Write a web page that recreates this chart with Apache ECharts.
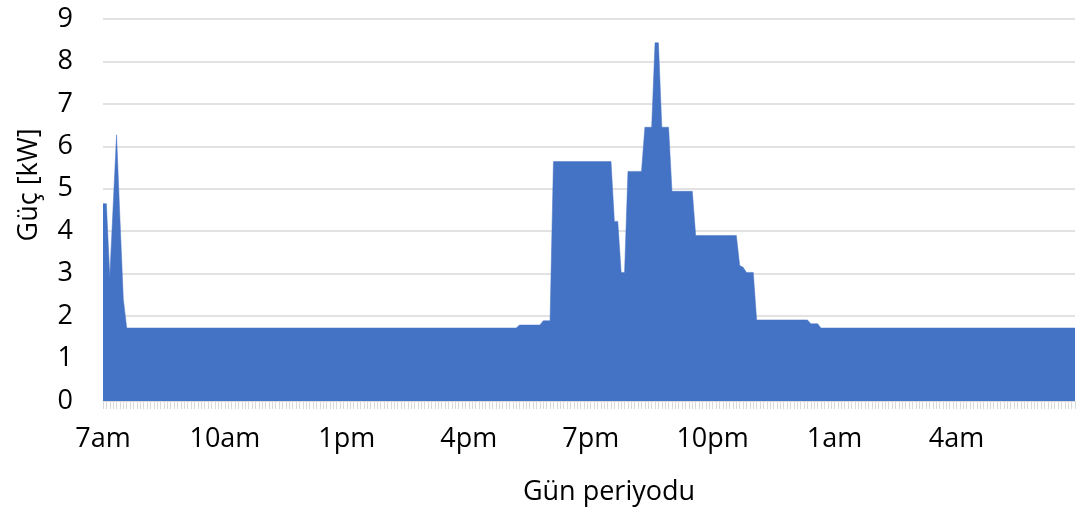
<!DOCTYPE html>
<html>
<head>
<meta charset="utf-8">
<script src="https://cdn.jsdelivr.net/npm/echarts@6/dist/echarts.min.js"></script>
<style>
html,body{margin:0;padding:0;background:#fff;}
#chart{width:1076px;height:514px;}
</style>
</head>
<body>
<div id="chart"></div>
<script>
// 5-minute intervals starting at 7:00am, 288 points (24 hours)
const hourLabels = ['12am','1am','2am','3am','4am','5am','6am','7am','8am','9am','10am','11am',
                    '12pm','1pm','2pm','3pm','4pm','5pm','6pm','7pm','8pm','9pm','10pm','11pm'];
const categories = [];
for (let k = 0; k < 288; k++) {
  const h = (7 + Math.floor(k / 12)) % 24;
  const m = (k % 12) * 5;
  categories.push(m === 0 ? hourLabels[h] : hourLabels[h].replace(/(am|pm)/, ':' + String(m).padStart(2,'0') + '$1'));
}

const power = [
  4.65, 4.65, 2.92, 4.6, 6.27, 4.3, 2.4,
  1.72, 1.72, 1.72, 1.72, 1.72, 1.72, 1.72, 1.72, 1.72, 1.72, 1.72, 1.72, 1.72, 1.72, 1.72, 1.72, 1.72, 1.72, 1.72, 1.72,
  1.72, 1.72, 1.72, 1.72, 1.72, 1.72, 1.72, 1.72, 1.72, 1.72, 1.72, 1.72, 1.72, 1.72, 1.72, 1.72, 1.72, 1.72, 1.72, 1.72,
  1.72, 1.72, 1.72, 1.72, 1.72, 1.72, 1.72, 1.72, 1.72, 1.72, 1.72, 1.72, 1.72, 1.72, 1.72, 1.72, 1.72, 1.72, 1.72, 1.72,
  1.72, 1.72, 1.72, 1.72, 1.72, 1.72, 1.72, 1.72, 1.72, 1.72, 1.72, 1.72, 1.72, 1.72, 1.72, 1.72, 1.72, 1.72, 1.72, 1.72,
  1.72, 1.72, 1.72, 1.72, 1.72, 1.72, 1.72, 1.72, 1.72, 1.72, 1.72, 1.72, 1.72, 1.72, 1.72, 1.72, 1.72, 1.72, 1.72, 1.72,
  1.72, 1.72, 1.72, 1.72, 1.72, 1.72, 1.72, 1.72, 1.72, 1.72, 1.72, 1.72, 1.72, 1.72, 1.72, 1.72,
  1.79, 1.79, 1.79, 1.79, 1.79, 1.79, 1.79,
  1.89, 1.89, 1.89,
  5.64, 5.64, 5.64, 5.64, 5.64, 5.64, 5.64, 5.64, 5.64, 5.64, 5.64, 5.64, 5.64, 5.64, 5.64, 5.64, 5.64, 5.64,
  4.23, 4.23,
  3.03, 3.03,
  5.41, 5.41, 5.41, 5.41, 5.41,
  6.45, 6.45, 6.45,
  8.44, 8.44,
  6.45, 6.45, 6.45,
  4.94, 4.94, 4.94, 4.94, 4.94, 4.94, 4.94,
  3.90, 3.90, 3.90, 3.90, 3.90, 3.90, 3.90, 3.90, 3.90, 3.90, 3.90, 3.90, 3.90,
  3.19, 3.15,
  3.03, 3.03, 3.03,
  1.91, 1.91, 1.91, 1.91, 1.91, 1.91, 1.91, 1.91, 1.91, 1.91, 1.91, 1.91, 1.91, 1.91, 1.91, 1.91,
  1.82, 1.82, 1.82,
  1.72, 1.72, 1.72, 1.72, 1.72, 1.72, 1.72, 1.72, 1.72, 1.72, 1.72, 1.72, 1.72, 1.72, 1.72, 1.72, 1.72, 1.72, 1.72, 1.72,
  1.72, 1.72, 1.72, 1.72, 1.72, 1.72, 1.72, 1.72, 1.72, 1.72, 1.72, 1.72, 1.72, 1.72, 1.72, 1.72, 1.72, 1.72, 1.72, 1.72,
  1.72, 1.72, 1.72, 1.72, 1.72, 1.72, 1.72, 1.72, 1.72, 1.72, 1.72, 1.72, 1.72, 1.72, 1.72, 1.72, 1.72, 1.72, 1.72, 1.72,
  1.72, 1.72, 1.72, 1.72, 1.72, 1.72, 1.72, 1.72, 1.72, 1.72, 1.72, 1.72, 1.72, 1.72, 1.72, 1.72
];

const yTitle = 'Güç [kW]';
const xTitle = 'Gün periyodu';
const FONT = '"Open Sans", "Liberation Sans", sans-serif';

const chart = echarts.init(document.getElementById('chart'), null, {renderer: 'canvas'});
chart.setOption({
  animation: false,
  backgroundColor: '#ffffff',
  grid: {left: 103, right: 1, top: 19, bottom: 113, containLabel: false},
  xAxis: {
    type: 'category',
    data: categories,
    boundaryGap: false,
    axisLine: {show: true, lineStyle: {color: '#d9d9d9', width: 1}},
    axisTick: {show: true, interval: 0, length: 8, lineStyle: {color: '#d9d9d9', width: 1}},
    axisLabel: {
      interval: 35, margin: 25, color: '#000', fontFamily: FONT, fontSize: 27,
      formatter: v => v
    },
    splitLine: {show: false},
    name: xTitle,
    nameLocation: 'middle',
    nameGap: 78,
    nameTextStyle: {color: '#000', fontFamily: FONT, fontSize: 27, padding: [0, 0, 0, 40]}
  },
  yAxis: {
    type: 'value',
    min: 0, max: 9, interval: 1,
    axisLine: {show: false},
    axisTick: {show: false},
    axisLabel: {margin: 30, color: '#000', fontFamily: FONT, fontSize: 27},
    splitLine: {show: true, lineStyle: {color: '#d9d9d9', width: 1.5}},
    name: yTitle,
    nameLocation: 'middle',
    nameGap: 60,
    nameTextStyle: {color: '#000', fontFamily: FONT, fontSize: 27, padding: [0, 0, 0, 50]}
  },
  series: [{
    type: 'line',
    data: power,
    showSymbol: false,
    symbol: 'none',
    lineStyle: {width: 0.5, color: '#4472C4'},
    areaStyle: {color: '#4472C4', opacity: 1},
    itemStyle: {color: '#4472C4'}
  }]
});
</script>
</body>
</html>
